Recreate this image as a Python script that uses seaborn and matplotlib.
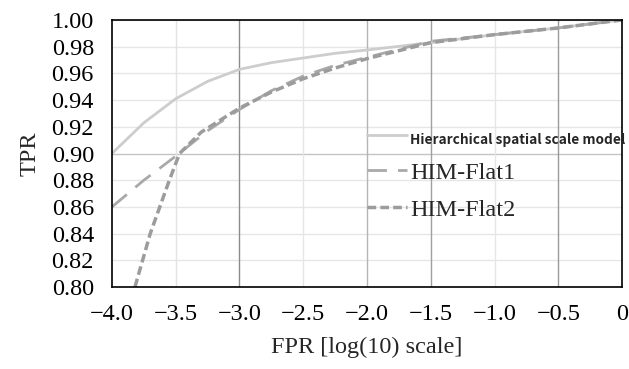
import numpy as np
import pandas as pd
import matplotlib
matplotlib.use("Agg")
from matplotlib import pyplot as plt
import seaborn as sns

# curves (x = log10 FPR, y = TPR)
fpr_hier = [-4.0, -3.75, -3.5, -3.25, -3.0, -2.75, -2.5, -2.25, -2.0, -1.5, -1.0, -0.5, 0.0]
tpr_hier = [0.900, 0.923, 0.941, 0.954, 0.963, 0.968, 0.9715, 0.975, 0.9775, 0.983, 0.989, 0.994, 1.000]

fpr_flat1 = [-4.0, -3.75, -3.5, -3.25, -3.0, -2.75, -2.5, -2.25, -2.0, -1.5, -1.0, -0.5, 0.0]
tpr_flat1 = [0.860, 0.880, 0.898, 0.917, 0.933, 0.947, 0.958, 0.966, 0.972, 0.984, 0.989, 0.994, 1.000]

fpr_flat2 = [-3.82, -3.70, -3.55, -3.47, -3.3, -3.0, -2.75, -2.5, -2.25, -2.0, -1.5, -1.0, -0.5, 0.0]
tpr_flat2 = [0.800, 0.840, 0.880, 0.900, 0.916, 0.934, 0.946, 0.956, 0.964, 0.971, 0.983, 0.989, 0.994, 1.000]

labels = ["Hierarchical spatial scale model", "HIM-Flat1", "HIM-Flat2"]
xticks = [-4.0, -3.5, -3.0, -2.5, -2.0, -1.5, -1.0, -0.5, 0.0]
xticklabels = ["\u22124.0", "\u22123.5", "\u22123.0", "\u22122.5", "\u22122.0",
               "\u22121.5", "\u22121.0", "\u22120.5", "0"]
yticks = [0.80, 0.82, 0.84, 0.86, 0.88, 0.90, 0.92, 0.94, 0.96, 0.98, 1.00]

sns.set_style("white")
plt.rcParams['font.family'] = ['Liberation Serif', 'DejaVu Serif']

fig = plt.figure(figsize=(6.29, 3.69), dpi=100)
ax = fig.add_axes([0.178, 0.222, 0.811, 0.724])

# grid (some of the vertical lines are darker in the original)
for y in yticks:
    ax.axhline(y, color='#c4c4c4' if abs(y - 0.90) < 1e-6 else '#e6e6e6', lw=1, zorder=0)
grid_shade = {-3.5: '#e3e3e3', -3.0: '#8c8c8c', -2.5: '#e6e6e6', -2.0: '#b5b5b5',
              -1.5: '#a0a0a0', -1.0: '#e6e6e6', -0.5: '#9a9a9a'}
for x, c in grid_shade.items():
    ax.axvline(x, color=c, lw=1, zorder=0)

df_h = pd.DataFrame({"fpr": fpr_hier, "tpr": tpr_hier})
df_1 = pd.DataFrame({"fpr": fpr_flat1, "tpr": tpr_flat1})
df_2 = pd.DataFrame({"fpr": fpr_flat2, "tpr": tpr_flat2})

sns.lineplot(data=df_h, x="fpr", y="tpr", ax=ax, color='#cdcdcd', lw=2, label=labels[0], sort=False)
sns.lineplot(data=df_1, x="fpr", y="tpr", ax=ax, color='#a9a9a9', lw=2, label=labels[1], sort=False)
ax.lines[-1].set_dashes((7, 4))
sns.lineplot(data=df_2, x="fpr", y="tpr", ax=ax, color='#9c9c9c', lw=2.5, label=labels[2], sort=False)
ax.lines[-1].set_dashes((2.5, 1.2))

ax.set_xlim(-4.0, 0.0)
ax.set_ylim(0.80, 1.00)
ax.set_xticks(xticks)
ax.set_xticklabels(xticklabels)
ax.set_yticks(yticks)
ax.set_yticklabels(["%.2f" % v for v in yticks])
ax.tick_params(axis='both', direction='in', length=6, width=1.2, labelsize=17.5, colors='black')
ax.tick_params(axis='x', pad=12)
ax.tick_params(axis='y', pad=13)
for s in ax.spines.values():
    s.set_color('black')
    s.set_linewidth(1.2)

ax.set_xlabel("FPR [log(10) scale]", fontsize=17.5, labelpad=9)
ax.set_ylabel("TPR", fontsize=17.5, labelpad=8)

leg = ax.legend(loc='upper left', bbox_to_anchor=(0.48, 0.637), frameon=False,
                handlelength=1.65, handletextpad=0.15, labelspacing=0.62, fontsize=17.5,
                borderaxespad=0)
t0 = leg.get_texts()[0]
t0.set_family(['Noto Sans CJK SC', 'DejaVu Sans'])
t0.set_fontweight('bold')
t0.set_fontsize(9.8)

fig.savefig("out.png", dpi=100)
